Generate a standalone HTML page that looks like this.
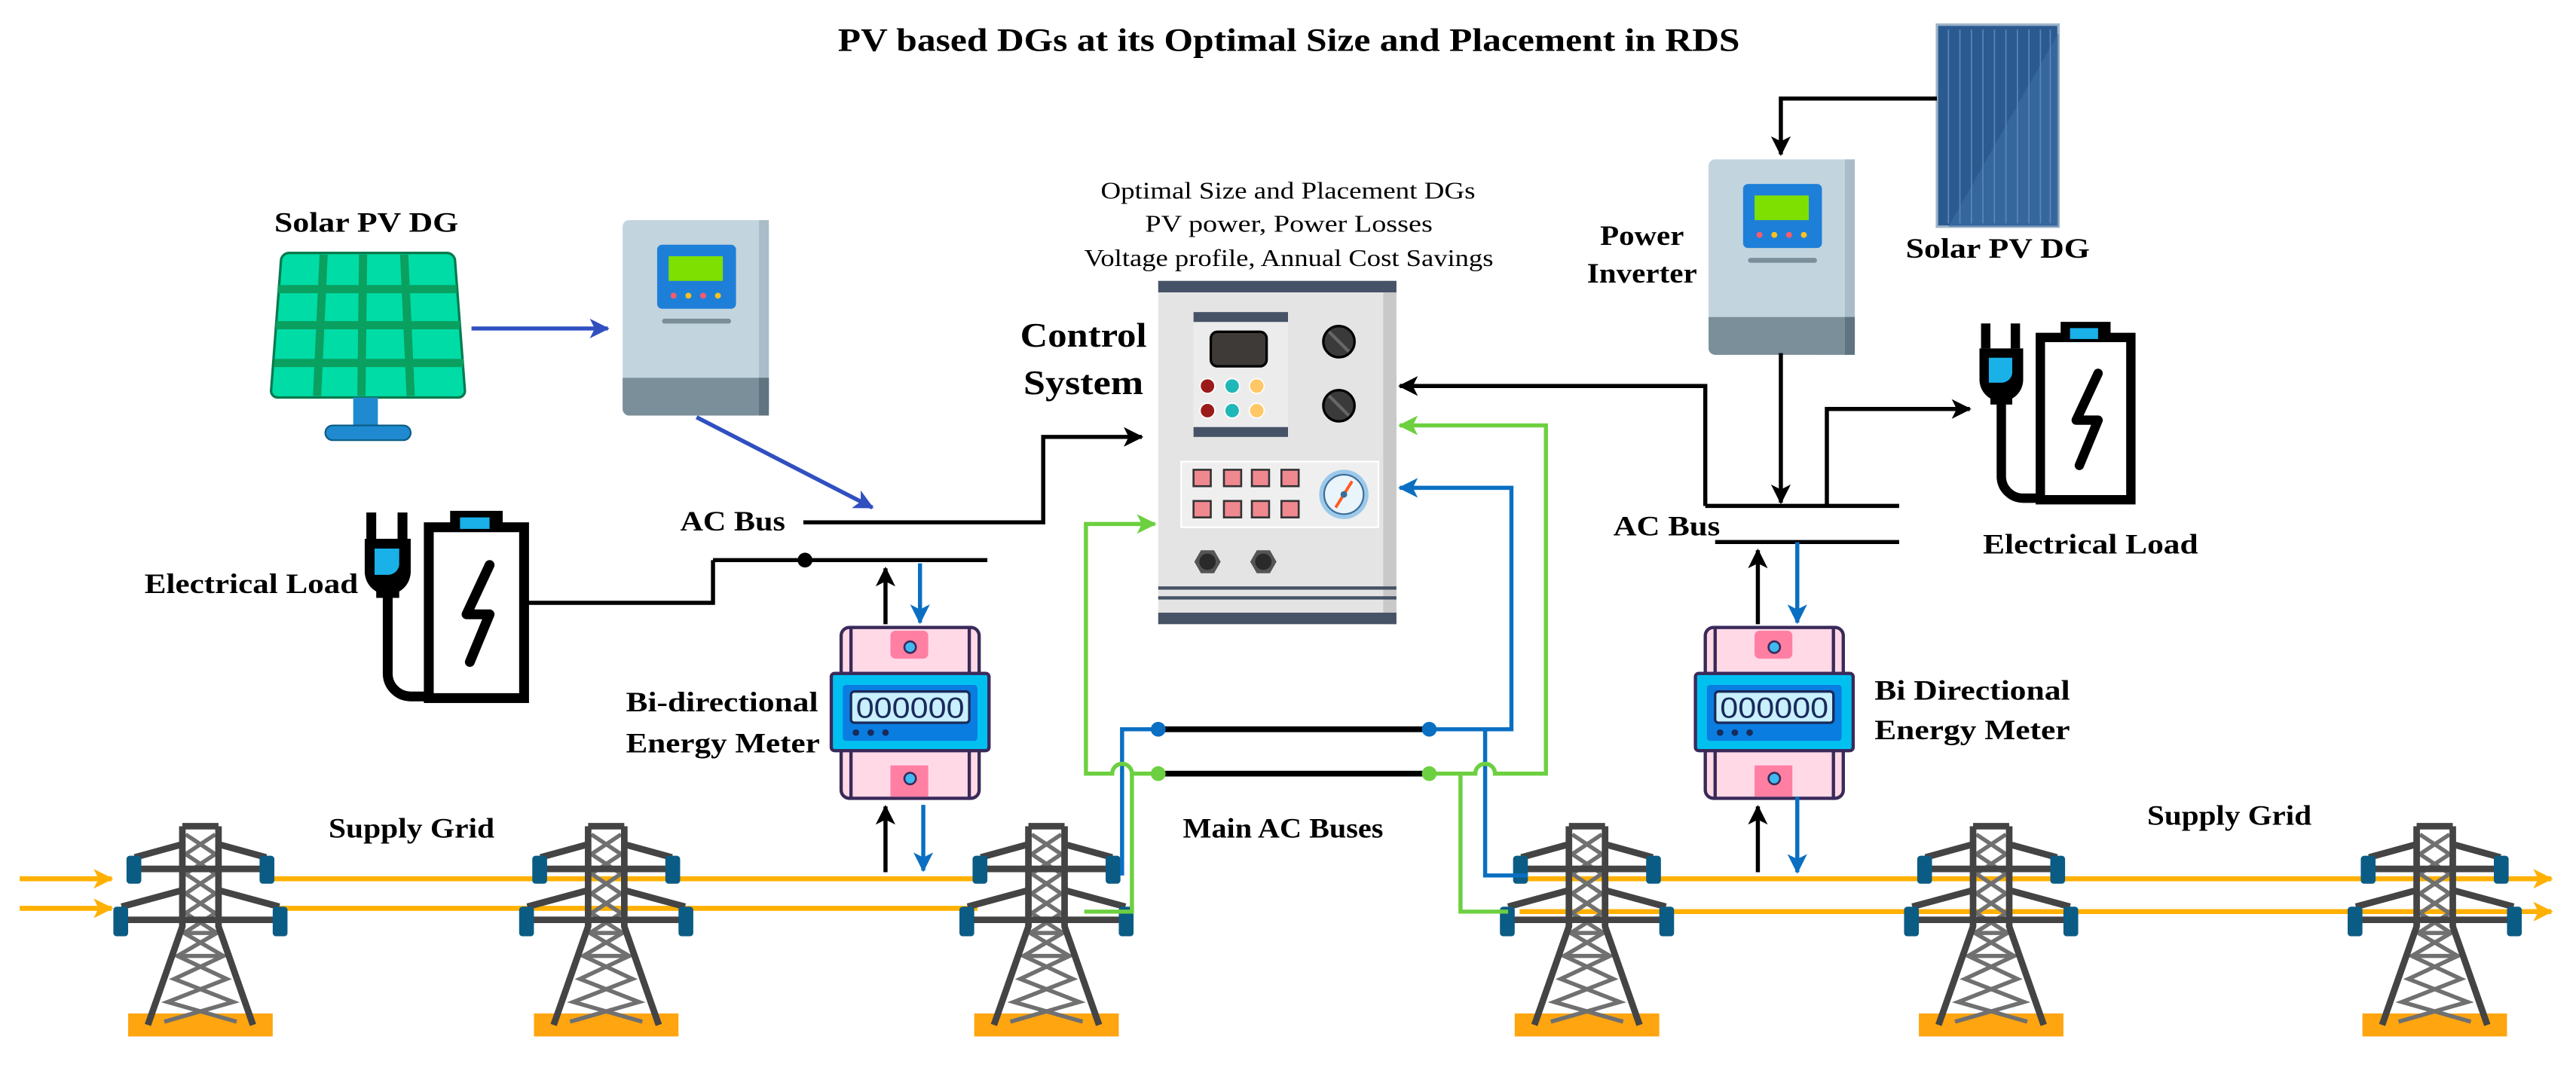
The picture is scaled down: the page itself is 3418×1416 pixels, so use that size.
<!DOCTYPE html>
<html><head><meta charset="utf-8"><style>
html,body{margin:0;padding:0;background:#fff;}
svg{display:block;}
text{font-family:"Liberation Serif","Times New Roman",Times,serif;}
.b{font-weight:bold;}
</style></head><body>
<svg width="3418" height="1416" viewBox="0 0 1568 649.6" preserveAspectRatio="none" xmlns="http://www.w3.org/2000/svg" font-family="Liberation Serif, Times New Roman, serif">
<defs>
<marker id="mk" markerUnits="userSpaceOnUse" markerWidth="14" markerHeight="14" refX="11" refY="6" orient="auto"><path d="M0,0 L12,6 L0,12 L3,6 Z" fill="#000"/></marker>
<marker id="mb" markerUnits="userSpaceOnUse" markerWidth="14" markerHeight="14" refX="11" refY="6" orient="auto"><path d="M0,0 L12,6 L0,12 L3,6 Z" fill="#0a6fc2"/></marker>
<marker id="mg" markerUnits="userSpaceOnUse" markerWidth="14" markerHeight="14" refX="11" refY="6" orient="auto"><path d="M0,0 L12,6 L0,12 L3,6 Z" fill="#6cd040"/></marker>
<marker id="md" markerUnits="userSpaceOnUse" markerWidth="14" markerHeight="14" refX="11" refY="6" orient="auto"><path d="M0,0 L12,6 L0,12 L3,6 Z" fill="#3050c0"/></marker>
<marker id="mo" markerUnits="userSpaceOnUse" markerWidth="14" markerHeight="14" refX="11" refY="6" orient="auto"><path d="M0,0 L12,6 L0,12 L3,6 Z" fill="#ffb000"/></marker>

<g id="tw">
  <rect x="-44" y="115" width="88" height="14" fill="#ffa510"/>
  <g stroke="#707070" stroke-width="2.5" fill="none">
    <path d="M-9,6 L9,18 L-9,30 L9,42 L-9,54 L10,66 L-14,80 L16,94 L-20,108 L22,120"/>
    <path d="M9,6 L-9,18 L9,30 L-9,42 L9,54 L-10,66 L14,80 L-16,94 L20,108 L-22,120"/>
    <path d="M-10,66 L10,66 M-13,80 L13,80"/>
  </g>
  <g stroke="#444" stroke-width="4" fill="none" stroke-linejoin="round">
    <path d="M-11,1 L11,1 M-11,1 L-11,62 L-32,122 M11,1 L11,62 L32,122"/>
    <path d="M-11,12 L-40,20 M11,12 L40,20 M-40,27 L40,27"/>
    <path d="M-11,40 L-48,50 M11,40 L48,50 M-48,58 L48,58"/>
  </g>
  <rect x="-45" y="19" width="9" height="17" rx="2" fill="#0b5c85"/>
  <rect x="36" y="19" width="9" height="17" rx="2" fill="#0b5c85"/>
  <rect x="-53" y="50" width="9" height="18" rx="2" fill="#0b5c85"/>
  <rect x="44" y="50" width="9" height="18" rx="2" fill="#0b5c85"/>
</g>

<g id="meter">
  <rect x="2" y="0" width="84" height="104" rx="5" fill="#ffd9e6" stroke="#3a2a5a" stroke-width="2"/>
  <path d="M8,0 V104 M80,0 V104" stroke="#3a2a5a" stroke-width="2"/>
  <rect x="32" y="2" width="23" height="17" rx="3" fill="#ff7fa3"/>
  <circle cx="44" cy="12" r="3.5" fill="#40b8f0" stroke="#3a2a5a" stroke-width="1.2"/>
  <rect x="32" y="84" width="23" height="19" fill="#ff7fa3"/>
  <circle cx="44" cy="92" r="3.5" fill="#40b8f0" stroke="#3a2a5a" stroke-width="1.2"/>
  <rect x="-4" y="28" width="96" height="47" rx="2" fill="#00c0f0" stroke="#3a2a5a" stroke-width="2"/>
  <rect x="3" y="35" width="82" height="34" rx="2" fill="#0a7de0"/>
  <rect x="8" y="39" width="72" height="19" rx="2" fill="#c8f0ff" stroke="#1a2a5a" stroke-width="1.5"/>
  <text x="44" y="55" font-size="18" text-anchor="middle" fill="#1a2a5a" textLength="66" lengthAdjust="spacingAndGlyphs" style="font-family:'Liberation Sans',sans-serif">000000</text>
  <circle cx="11" cy="64" r="2" fill="#1a2a5a"/><circle cx="20" cy="64" r="2" fill="#1a2a5a"/><circle cx="29" cy="64" r="2" fill="#1a2a5a"/>
</g>

<g id="inv">
  <rect x="0" y="0" width="89" height="119" rx="4" fill="#c2d4de"/>
  <rect x="83" y="0" width="6" height="119" fill="#a9bcc8"/>
  <path d="M0,96 H89 V115 a4,4 0 0 1 -4,4 H4 a4,4 0 0 1 -4,-4 Z" fill="#7a8f9a"/>
  <rect x="83" y="96" width="6" height="23" fill="#5f7480"/>
  <rect x="21" y="15" width="48" height="39" rx="3" fill="#1e7fd8"/>
  <rect x="28" y="22" width="33" height="15" fill="#7ee000"/>
  <circle cx="31" cy="46" r="1.8" fill="#ff5a6a"/><circle cx="40" cy="46" r="1.8" fill="#ffc020"/><circle cx="49" cy="46" r="1.8" fill="#ff5a6a"/><circle cx="58" cy="46" r="1.8" fill="#ffc020"/>
  <rect x="24" y="60" width="42" height="3" rx="1.5" fill="#7a8f9a"/>
</g>

<g id="load">
  <rect x="41" y="11" width="58" height="104" fill="#fff" stroke="#000" stroke-width="6"/>
  <rect x="54" y="1" width="32" height="11" fill="#000"/>
  <rect x="60" y="5" width="18" height="7" fill="#1ab0e8"/>
  <path d="M78,34 L64,64 L78,64 L66,93" fill="none" stroke="#000" stroke-width="6" stroke-linecap="round" stroke-linejoin="round"/>
  <path d="M16,52 V100 a14,14 0 0 0 14,14 H41" fill="none" stroke="#000" stroke-width="6"/>
  <path d="M6,2 V18 M25,2 V18" stroke="#000" stroke-width="6"/>
  <path d="M2,18 H30 V38 a14,14 0 0 1 -28,0 Z" fill="#000"/>
  <path d="M8,24 H23 V34 a7,7 0 0 1 -7,6 H8 Z" fill="#1ab0e8"/>
  <rect x="9" y="48" width="14" height="6" fill="#000"/>
</g>
</defs>

<text x="510" y="31" class="b" font-size="20" textLength="549" lengthAdjust="spacingAndGlyphs">PV based DGs at its Optimal Size and Placement in RDS</text>

<g stroke="#ffb000" stroke-width="3" fill="none">
  <path d="M12,535 H68" marker-end="url(#mo)"/>
  <path d="M12,553 H68" marker-end="url(#mo)"/>
  <path d="M160,535 H600"/>
  <path d="M170,553 H595"/>
  <path d="M925,535 H1553" marker-end="url(#mo)"/>
  <path d="M925,555 H1553" marker-end="url(#mo)"/>
</g>

<use href="#tw" x="122" y="502"/>
<use href="#tw" x="369" y="502"/>
<use href="#tw" x="637" y="502"/>
<use href="#tw" x="966" y="502"/>
<use href="#tw" x="1212" y="502"/>
<use href="#tw" x="1482" y="502"/>

<path d="M176,154 H272 a5,5 0 0 1 5,5 L283,238 a4,4 0 0 1 -4,4 H169 a4,4 0 0 1 -4,-4 L171,159 a5,5 0 0 1 5,-5 Z" fill="#00dca6" stroke="#087a4e" stroke-width="1.5"/>
<g stroke="#0aa060" stroke-width="5">
  <path d="M197,155 L193,241 M221,155 L220,241 M246,155 L250,241"/>
  <path d="M169,176 H278 M168,198 H280 M167,221 H282"/>
</g>
<rect x="215" y="242" width="15" height="18" fill="#1f8ad0"/>
<rect x="198" y="259" width="52" height="9" rx="4.5" fill="#1f8ad0" stroke="#0b5c85" stroke-width="1"/>
<text x="167" y="141" class="b" font-size="17" textLength="112" lengthAdjust="spacingAndGlyphs">Solar PV DG</text>

<use href="#inv" x="379" y="134"/>
<path d="M287,200 H370" stroke="#3050c0" stroke-width="2.5" marker-end="url(#md)"/>
<path d="M424,254 L531,309" stroke="#3050c0" stroke-width="2.5" marker-end="url(#md)"/>

<text x="414" y="323" class="b" font-size="17" textLength="64" lengthAdjust="spacingAndGlyphs">AC Bus</text>
<path d="M489,318 H635 V266 H695" fill="none" stroke="#000" stroke-width="2.5" marker-end="url(#mk)"/>
<path d="M434,341 H601" stroke="#000" stroke-width="2.5"/>
<path d="M321,367 H434 V341" fill="none" stroke="#000" stroke-width="2.5"/>
<circle cx="490" cy="341" r="4.5" fill="#000"/>

<use href="#load" x="220" y="310"/>
<text x="88" y="361" class="b" font-size="17" textLength="130" lengthAdjust="spacingAndGlyphs">Electrical Load</text>

<path d="M539,380 V346" stroke="#000" stroke-width="2.5" marker-end="url(#mk)"/>
<path d="M560,343 V379" stroke="#0a6fc2" stroke-width="2.5" marker-end="url(#mb)"/>
<use href="#meter" x="510" y="382"/>
<path d="M539,531 V491" stroke="#000" stroke-width="2.5" marker-end="url(#mk)"/>
<path d="M562,490 V530" stroke="#0a6fc2" stroke-width="2.5" marker-end="url(#mb)"/>
<text x="381" y="433" class="b" font-size="17" textLength="117" lengthAdjust="spacingAndGlyphs">Bi-directional</text>
<text x="381" y="458" class="b" font-size="17" textLength="118" lengthAdjust="spacingAndGlyphs">Energy Meter</text>
<text x="200" y="510" class="b" font-size="17" textLength="101" lengthAdjust="spacingAndGlyphs">Supply Grid</text>

<text x="670" y="121" font-size="14.5" textLength="228" lengthAdjust="spacingAndGlyphs">Optimal Size and Placement DGs</text>
<text x="697" y="141" font-size="14.5" textLength="175" lengthAdjust="spacingAndGlyphs">PV power, Power Losses</text>
<text x="660" y="162" font-size="14.5" textLength="249" lengthAdjust="spacingAndGlyphs">Voltage profile, Annual Cost Savings</text>
<text x="621" y="211" class="b" font-size="21" textLength="77" lengthAdjust="spacingAndGlyphs">Control</text>
<text x="623" y="240" class="b" font-size="21" textLength="73" lengthAdjust="spacingAndGlyphs">System</text>

<g transform="translate(705,171)">
  <rect x="0" y="0" width="145" height="209" fill="#e4e4e4"/>
  <rect x="137" y="0" width="8" height="209" fill="#c9c9c9"/>
  <rect x="0" y="0" width="145" height="7" fill="#465266"/>
  <rect x="21.5" y="19" width="57.5" height="76" fill="#ececec"/>
  <rect x="21.5" y="19" width="57.5" height="6" fill="#465266"/>
  <rect x="21.5" y="89" width="57.5" height="6" fill="#465266"/>
  <rect x="32" y="31" width="34" height="21" rx="4" fill="#3e3a38" stroke="#000" stroke-width="1.5"/>
  <circle cx="30" cy="64" r="4.5" fill="#9b1b1b" stroke="#fff" stroke-width="0.8"/>
  <circle cx="45" cy="64" r="4.5" fill="#1fb7b7" stroke="#fff" stroke-width="0.8"/>
  <circle cx="60" cy="64" r="4.5" fill="#ffc766" stroke="#fff" stroke-width="0.8"/>
  <circle cx="30" cy="79" r="4.5" fill="#9b1b1b" stroke="#fff" stroke-width="0.8"/>
  <circle cx="45" cy="79" r="4.5" fill="#1fb7b7" stroke="#fff" stroke-width="0.8"/>
  <circle cx="60" cy="79" r="4.5" fill="#ffc766" stroke="#fff" stroke-width="0.8"/>
  <circle cx="110" cy="37" r="9.5" fill="#3a3a3a" stroke="#000" stroke-width="1.5"/>
  <path d="M104,31 L116,43" stroke="#666" stroke-width="2"/>
  <circle cx="110" cy="76" r="9.5" fill="#3a3a3a" stroke="#000" stroke-width="1.5"/>
  <path d="M104,70 L116,82" stroke="#666" stroke-width="2"/>
  <rect x="14" y="110" width="120" height="40" fill="#efefef" stroke="#fff" stroke-width="1"/>
  <g fill="#f08890" stroke="#333" stroke-width="1.2">
    <rect x="21.5" y="115" width="10.5" height="10"/><rect x="40" y="115" width="10.5" height="10"/><rect x="57" y="115" width="10.5" height="10"/><rect x="75" y="115" width="10.5" height="10"/>
    <rect x="21.5" y="134" width="10.5" height="10"/><rect x="40" y="134" width="10.5" height="10"/><rect x="57" y="134" width="10.5" height="10"/><rect x="75" y="134" width="10.5" height="10"/>
  </g>
  <circle cx="113" cy="130" r="15" fill="#9cc9ea"/>
  <circle cx="113" cy="130" r="12" fill="#eaf4fb" stroke="#3a6e9a" stroke-width="1"/>
  <path d="M108,138 L118,122" stroke="#ff5a20" stroke-width="1.8"/>
  <circle cx="113" cy="130" r="2" fill="#3a6e9a"/>
  <path d="M22,171 l4,-7 h8 l4,7 l-4,7 h-8 Z" fill="#555"/><circle cx="30" cy="171" r="5" fill="#2a2a2a"/>
  <path d="M56,171 l4,-7 h8 l4,7 l-4,7 h-8 Z" fill="#555"/><circle cx="64" cy="171" r="5" fill="#2a2a2a"/>
  <rect x="0" y="186" width="145" height="2" fill="#465266"/>
  <rect x="0" y="192" width="145" height="2" fill="#465266"/>
  <rect x="0" y="202" width="145" height="7" fill="#465266"/>
</g>

<path d="M705,444 H870 M705,471 H870" stroke="#000" stroke-width="3.5"/>
<text x="720" y="510" class="b" font-size="17" textLength="122" lengthAdjust="spacingAndGlyphs">Main AC Buses</text>

<path d="M705,444 H683 V533" fill="none" stroke="#0a6fc2" stroke-width="2.5"/>
<path d="M705,471 H689 a6,6 0 0 0 -12,0 H661 V319 H703" fill="none" stroke="#6cd040" stroke-width="2.5" marker-end="url(#mg)"/>
<path d="M689,471 V555 H660" fill="none" stroke="#6cd040" stroke-width="2.5"/>
<circle cx="705" cy="444" r="4.5" fill="#0a6fc2"/>
<circle cx="705" cy="471" r="4.5" fill="#6cd040"/>

<path d="M870,444 H920 V297 H852" fill="none" stroke="#0a6fc2" stroke-width="2.5" marker-end="url(#mb)"/>
<path d="M904,444 V533 H930" fill="none" stroke="#0a6fc2" stroke-width="2.5"/>
<path d="M870,471 H898 a6,6 0 0 1 12,0 H941 V259 H852" fill="none" stroke="#6cd040" stroke-width="2.5" marker-end="url(#mg)"/>
<path d="M889,471 V555 H918" fill="none" stroke="#6cd040" stroke-width="2.5"/>
<circle cx="870" cy="444" r="4.5" fill="#0a6fc2"/>
<circle cx="870" cy="471" r="4.5" fill="#6cd040"/>
<path d="M1038,308 V235 H852" fill="none" stroke="#000" stroke-width="2.5" marker-end="url(#mk)"/>

<rect x="1179" y="15" width="74" height="123" fill="#2a5a90" stroke="#9fb4c8" stroke-width="1.5"/>
<path d="M1253,20 L1186,138 H1253 Z" fill="#3d6ea5" opacity="0.6"/>
<g stroke="#5b86b8" stroke-width="0.8">
  <path d="M1186,18 V136 M1193,18 V136 M1200,18 V136 M1207,18 V136 M1214,18 V136 M1221,18 V136 M1228,18 V136 M1235,18 V136 M1242,18 V136 M1248,18 V136"/>
</g>
<text x="1160" y="157" class="b" font-size="17" textLength="112" lengthAdjust="spacingAndGlyphs">Solar PV DG</text>
<path d="M1179,60 H1084 V94" fill="none" stroke="#000" stroke-width="2.5" marker-end="url(#mk)"/>

<use href="#inv" x="1040" y="97"/>
<text x="974" y="149" class="b" font-size="17" textLength="51" lengthAdjust="spacingAndGlyphs">Power</text>
<text x="966" y="172" class="b" font-size="17" textLength="67" lengthAdjust="spacingAndGlyphs">Inverter</text>
<path d="M1084,215 V306" stroke="#000" stroke-width="2.5" marker-end="url(#mk)"/>

<path d="M1038,308 H1156 M1044,330 H1156" stroke="#000" stroke-width="2.5"/>
<path d="M1112,308 V249 H1199" fill="none" stroke="#000" stroke-width="2.5" marker-end="url(#mk)"/>
<text x="982" y="326" class="b" font-size="17" textLength="65" lengthAdjust="spacingAndGlyphs">AC Bus</text>
<use href="#load" x="1203" y="195" transform="translate(1203,195) scale(0.95) translate(-1203,-195)"/>
<text x="1207" y="337" class="b" font-size="17" textLength="131" lengthAdjust="spacingAndGlyphs">Electrical Load</text>

<path d="M1070,380 V335" stroke="#000" stroke-width="2.5" marker-end="url(#mk)"/>
<path d="M1094,330 V379" stroke="#0a6fc2" stroke-width="2.5" marker-end="url(#mb)"/>
<use href="#meter" x="1036" y="382"/>
<path d="M1070,531 V491" stroke="#000" stroke-width="2.5" marker-end="url(#mk)"/>
<path d="M1094,485 V531" stroke="#0a6fc2" stroke-width="2.5" marker-end="url(#mb)"/>
<text x="1141" y="426" class="b" font-size="17" textLength="119" lengthAdjust="spacingAndGlyphs">Bi Directional</text>
<text x="1141" y="450" class="b" font-size="17" textLength="119" lengthAdjust="spacingAndGlyphs">Energy Meter</text>
<text x="1307" y="502" class="b" font-size="17" textLength="100" lengthAdjust="spacingAndGlyphs">Supply Grid</text>
</svg>
</body></html>
